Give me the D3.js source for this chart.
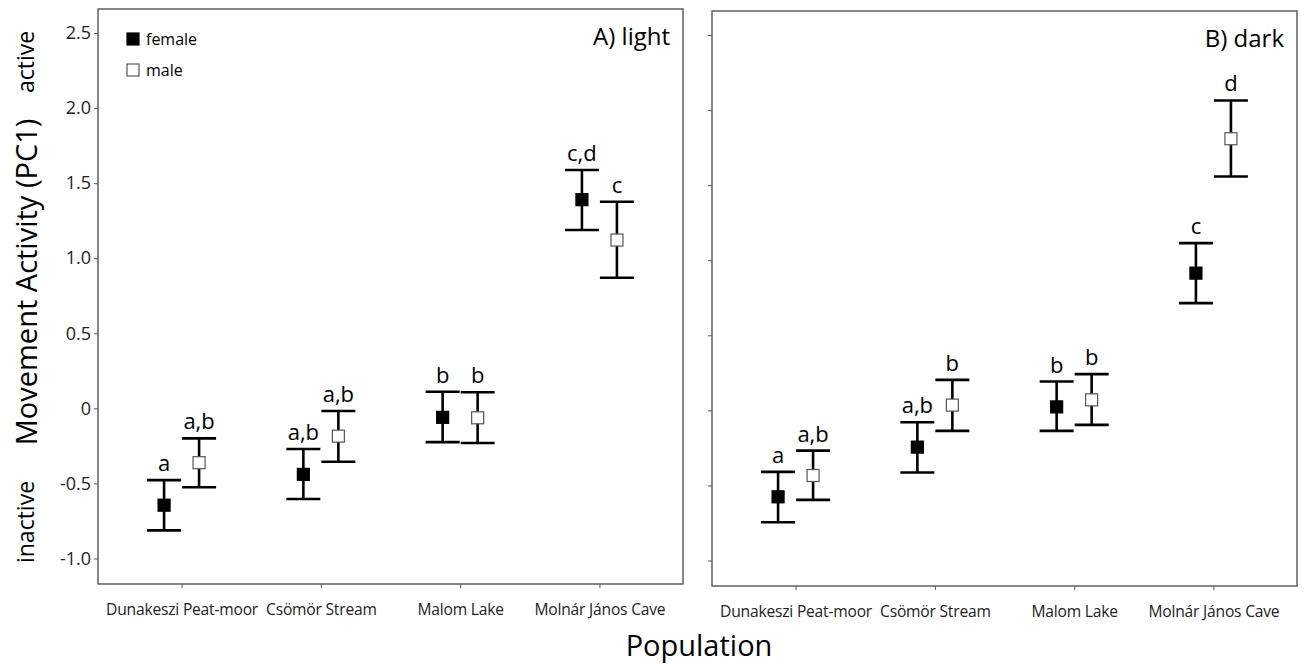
<!DOCTYPE html>
<html>
<head>
<meta charset="utf-8">
<script src="https://cdn.jsdelivr.net/npm/d3@7"></script>
<style>
  body { margin: 0; background: #fff; }
  svg, svg text { font-family: "Open Sans", sans-serif; }
  .frame { fill: none; stroke: #555; stroke-width: 1.4; }
  .tick line { stroke: #555; }
  .tick text { fill: #222; }
  .domain { display: none; }
</style>
</head>
<body>
<div id="chart"></div>
<script>
// data
const populations = ["Dunakeszi Peat-moor", "Csömör Stream", "Malom Lake", "Molnár János Cave"];
const yTicks = [-1.0, -0.5, 0, 0.5, 1.0, 1.5, 2.0, 2.5];
const yTickLabels = ["-1.0", "-0.5", "0", "0.5", "1.0", "1.5", "2.0", "2.5"];
const sexes = ["female", "male"];

const lightFemaleMean = [-0.645, -0.44, -0.06, 1.39];
const lightFemaleLow = [-0.813, -0.604, -0.225, 1.188];
const lightFemaleHigh = [-0.478, -0.271, 0.111, 1.588];
const lightFemaleLetters = ["a", "a,b", "b", "c,d"];

const lightMaleMean = [-0.362, -0.185, -0.063, 1.121];
const lightMaleLow = [-0.526, -0.356, -0.231, 0.870];
const lightMaleHigh = [-0.200, -0.018, 0.107, 1.376];
const lightMaleLetters = ["a,b", "a,b", "b", "c"];

const darkFemaleMean = [-0.576, -0.245, 0.023, 0.914];
const darkFemaleLow = [-0.745, -0.414, -0.137, 0.714];
const darkFemaleHigh = [-0.410, -0.079, 0.192, 1.114];
const darkFemaleLetters = ["a", "a,b", "b", "c"];

const darkMaleMean = [-0.434, 0.035, 0.07, 1.809];
const darkMaleLow = [-0.596, -0.137, -0.097, 1.558];
const darkMaleHigh = [-0.268, 0.203, 0.241, 2.064];
const darkMaleLetters = ["a,b", "b", "b", "d"];

const W = 1313, H = 664;
const panelW = 585, panelH = 575;
const capHalf = 17;
const boxSize = 12;

function rows(sex, mean, low, high, letters) {
  return populations.map((p, i) => ({
    pop: p, sex: sex, mean: mean[i], low: low[i], high: high[i], letter: letters[i]
  }));
}

const panels = [
  {
    title: "A) light", left: 98, top: 9, showLabels: true,
    data: rows("female", lightFemaleMean, lightFemaleLow, lightFemaleHigh, lightFemaleLetters)
      .concat(rows("male", lightMaleMean, lightMaleLow, lightMaleHigh, lightMaleLetters))
  },
  {
    title: "B) dark", left: 712, top: 11, showLabels: false,
    data: rows("female", darkFemaleMean, darkFemaleLow, darkFemaleHigh, darkFemaleLetters)
      .concat(rows("male", darkMaleMean, darkMaleLow, darkMaleHigh, darkMaleLetters))
  }
];

const svg = d3.select("#chart").append("svg")
  .attr("width", W)
  .attr("height", H);

const x = d3.scalePoint()
  .domain(populations)
  .range([0, panelW])
  .padding(0.6);

const dodge = d3.scalePoint()
  .domain(sexes)
  .range([-17.5, 17.5]);

const y = d3.scaleLinear()
  .domain([-1.17, 2.66])
  .range([panelH, 0]);

panels.forEach(function (panel) {
  const g = svg.append("g")
    .attr("transform", "translate(" + panel.left + "," + panel.top + ")");

  const yAxis = d3.axisLeft(y)
    .tickValues(yTicks)
    .tickSize(4)
    .tickPadding(3)
    .tickFormat((d, i) => panel.showLabels ? yTickLabels[i] : "");

  g.append("g")
    .attr("class", "y axis")
    .call(yAxis)
    .attr("font-family", null)
    .selectAll("text")
    .style("font-size", "18px");

  const xAxis = d3.axisBottom(x)
    .tickSize(4)
    .tickPadding(16);

  g.append("g")
    .attr("class", "x axis")
    .attr("transform", "translate(0," + panelH + ")")
    .call(xAxis)
    .attr("font-family", null)
    .selectAll("text")
    .style("font-size", "15.6px")
    .style("letter-spacing", "-0.2px");

  g.append("rect")
    .attr("class", "frame")
    .attr("width", panelW)
    .attr("height", panelH);

  g.append("text")
    .attr("x", panelW - 13)
    .attr("y", 36)
    .attr("text-anchor", "end")
    .style("font-size", "24px")
    .text(panel.title);

  const cx = (d) => x(d.pop) + dodge(d.sex);

  const bars = g.append("g").selectAll("g.bar")
    .data(panel.data)
    .enter().append("g")
    .attr("class", "bar");

  bars.append("line")
    .attr("x1", cx).attr("x2", cx)
    .attr("y1", (d) => y(d.low))
    .attr("y2", (d) => y(d.high))
    .attr("stroke", "#000")
    .attr("stroke-width", 2.6);

  bars.append("line")
    .attr("x1", (d) => cx(d) - capHalf).attr("x2", (d) => cx(d) + capHalf)
    .attr("y1", (d) => y(d.high)).attr("y2", (d) => y(d.high))
    .attr("stroke", "#000")
    .attr("stroke-width", 2.6);

  bars.append("line")
    .attr("x1", (d) => cx(d) - capHalf).attr("x2", (d) => cx(d) + capHalf)
    .attr("y1", (d) => y(d.low)).attr("y2", (d) => y(d.low))
    .attr("stroke", "#000")
    .attr("stroke-width", 2.6);

  bars.append("rect")
    .attr("x", (d) => cx(d) - boxSize / 2)
    .attr("y", (d) => y(d.mean) - boxSize / 2)
    .attr("width", boxSize)
    .attr("height", boxSize)
    .attr("fill", (d) => d.sex === "female" ? "#000" : "#fff")
    .attr("stroke", (d) => d.sex === "female" ? "#000" : "#555")
    .attr("stroke-width", 1.2);

  bars.append("text")
    .attr("x", cx)
    .attr("y", (d) => y(d.high) - 9)
    .attr("text-anchor", "middle")
    .style("font-size", "22px")
    .text((d) => d.letter);
});

// legend in panel A
const legend = svg.append("g")
  .attr("transform", "translate(127,33)");

sexes.forEach(function (s, i) {
  const row = legend.append("g").attr("transform", "translate(0," + (i * 31) + ")");
  row.append("rect")
    .attr("width", 12).attr("height", 12)
    .attr("fill", s === "female" ? "#000" : "#fff")
    .attr("stroke", s === "female" ? "#000" : "#555")
    .attr("stroke-width", 1.2);
  row.append("text")
    .attr("x", 19)
    .attr("y", 12)
    .style("font-size", "16px")
    .text(s);
});

// axis titles
svg.append("text")
  .attr("transform", "translate(37,282) rotate(-90)")
  .attr("text-anchor", "middle")
  .style("font-size", "29px")
  .text("Movement Activity (PC1)");

svg.append("text")
  .attr("transform", "translate(34,62) rotate(-90)")
  .attr("text-anchor", "middle")
  .style("font-size", "23px")
  .text("active");

svg.append("text")
  .attr("transform", "translate(34,522) rotate(-90)")
  .attr("text-anchor", "middle")
  .style("font-size", "23px")
  .text("inactive");

svg.append("text")
  .attr("x", 699)
  .attr("y", 656)
  .attr("text-anchor", "middle")
  .style("font-size", "29px")
  .text("Population");
</script>
</body>
</html>
